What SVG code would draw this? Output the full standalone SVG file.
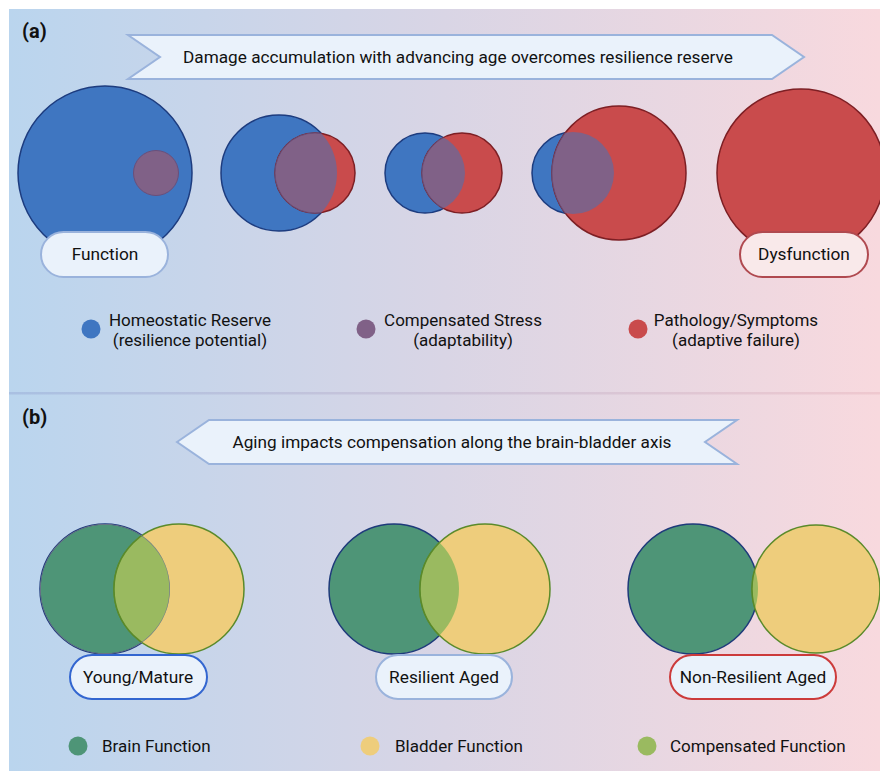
<svg xmlns="http://www.w3.org/2000/svg" width="880" height="771" viewBox="0 0 880 771">
  <defs>
    <linearGradient id="bg" x1="0" y1="0" x2="1" y2="0">
      <stop offset="0" stop-color="#bad5ee"/>
      <stop offset="0.5" stop-color="#d9d5e5"/>
      <stop offset="1" stop-color="#f8d9de"/>
    </linearGradient>
    <linearGradient id="sep" x1="0" y1="0" x2="1" y2="0">
      <stop offset="0" stop-color="#a9c0e2"/>
      <stop offset="1" stop-color="#efc8cf"/>
    </linearGradient>
    <!-- clip regions used to paint circle intersections -->
    <clipPath id="cA2"><circle cx="279" cy="173" r="58"/></clipPath>
    <clipPath id="cA3"><circle cx="425" cy="173" r="40"/></clipPath>
    <clipPath id="cA4"><circle cx="573" cy="173" r="41"/></clipPath>
    <clipPath id="cB1"><circle cx="105" cy="589" r="65"/></clipPath>
    <clipPath id="cB2"><circle cx="394" cy="589" r="65"/></clipPath>
    <clipPath id="cB3"><circle cx="693" cy="589" r="65"/></clipPath>
  </defs>
  <style>
    text { font-family: Roboto, "Liberation Sans", sans-serif; fill: #111; }
    .tag { font-weight: bold; font-size: 20px; }
    .banner { fill: #eaf2fb; stroke: #9ab3dc; stroke-width: 2; }
    .bt { font-size: 17.2px; text-anchor: middle; dominant-baseline: central; }
    .blue { fill: #3f76c1; stroke: #1d3c7f; stroke-width: 1.5; }
    .red { fill: #c94b4c; stroke: #7d1f24; stroke-width: 1.5; }
    .purple { fill: #806187; stroke: #6a4f7a; stroke-width: 1; }
    .green { fill: #4e9577; stroke: #1e3a7a; stroke-width: 1.5; }
    .yellow { fill: #eecd7c; stroke: #5a8a2a; stroke-width: 1.5; }
    .lime { fill: #9aba60; stroke: #5a8a2a; stroke-width: 1.5; }
    .pill { fill: #eaf2fb; stroke: #9ab3dc; stroke-width: 2; }
    .pt { font-size: 17.3px; text-anchor: middle; dominant-baseline: central; }
    .lg { font-size: 17px; text-anchor: middle; }
    .lg2 { font-size: 17px; dominant-baseline: central; }
  </style>

  <!-- backgrounds of both panels -->
  <rect x="9" y="9" width="871" height="384" fill="url(#bg)"/>
  <rect x="9" y="394" width="871" height="377" fill="url(#bg)"/>
  <rect x="9" y="392" width="871" height="2.5" fill="url(#sep)"/>

  <!-- ===== Panel (a) ===== -->
  <text class="tag" x="22" y="38">(a)</text>
  <g id="bannerA">
    <polygon class="banner" points="128,35 772,35 804,57 772,79 128,79 160,57"/>
    <text class="bt" x="458" y="57">Damage accumulation with advancing age overcomes resilience reserve</text>
  </g>

  <g id="stage1">
    <circle class="blue" cx="105" cy="173" r="87"/>
    <circle class="purple" cx="156" cy="173" r="22.5"/>
  </g>
  <g id="stage2">
    <circle class="blue" cx="279" cy="173" r="58"/>
    <circle class="red" cx="315" cy="173" r="40"/>
    <circle class="purple" cx="315" cy="173" r="40" clip-path="url(#cA2)"/>
  </g>
  <g id="stage3">
    <circle class="blue" cx="425" cy="173" r="40"/>
    <circle class="red" cx="462" cy="173" r="40"/>
    <circle class="purple" cx="462" cy="173" r="40" clip-path="url(#cA3)"/>
  </g>
  <g id="stage4">
    <circle class="blue" cx="573" cy="173" r="41"/>
    <circle class="red" cx="619" cy="173" r="67"/>
    <circle class="purple" cx="619" cy="173" r="67" clip-path="url(#cA4)"/>
  </g>
  <g id="stage5">
    <circle class="red" cx="801" cy="173" r="84"/>
  </g>

  <g id="function">
    <rect class="pill" x="41" y="232" width="127" height="45" rx="22.5"/>
    <text class="pt" x="105" y="254">Function</text>
  </g>
  <g id="dysfunction">
    <rect class="pill" x="740" y="232" width="128" height="45" rx="22.5" style="fill:#f9e9ea;stroke:#b04a50"/>
    <text class="pt" x="804" y="254">Dysfunction</text>
  </g>

  <g id="legendA">
    <circle cx="91" cy="329" r="9.5" fill="#3f76c1"/>
    <text class="lg" x="190" y="326">Homeostatic Reserve</text>
    <text class="lg" x="190" y="346">(resilience potential)</text>
    <circle cx="366" cy="329" r="9.5" fill="#806187"/>
    <text class="lg" x="463" y="326">Compensated Stress</text>
    <text class="lg" x="463" y="346">(adaptability)</text>
    <circle cx="638" cy="329" r="9.5" fill="#c94b4c"/>
    <text class="lg" x="736" y="326">Pathology/Symptoms</text>
    <text class="lg" x="736" y="346">(adaptive failure)</text>
  </g>

  <!-- ===== Panel (b) ===== -->
  <text class="tag" x="22" y="424">(b)</text>
  <g id="bannerB">
    <polygon class="banner" points="177,442 209,420 737,420 705,442 737,464 209,464"/>
    <text class="bt" x="452" y="442">Aging impacts compensation along the brain-bladder axis</text>
  </g>

  <g id="young">
    <circle class="green" cx="105" cy="589" r="65"/>
    <circle class="yellow" cx="179" cy="589" r="65"/>
    <circle class="lime" cx="179" cy="589" r="65" clip-path="url(#cB1)"/>
    <circle cx="105" cy="589" r="65" fill="none" stroke="#7a7f8a" stroke-width="1.5" clip-path="url(#cB1)"/>
  </g>
  <g id="resilient">
    <circle class="green" cx="394" cy="589" r="65"/>
    <circle class="yellow" cx="485" cy="589" r="65"/>
    <circle class="lime" cx="485" cy="589" r="65" clip-path="url(#cB2)"/>
  </g>
  <g id="nonresilient">
    <circle class="green" cx="693" cy="589" r="65"/>
    <circle class="yellow" cx="816" cy="589" r="64"/>
    <circle class="lime" cx="816" cy="589" r="64" clip-path="url(#cB3)"/>
  </g>

  <g id="lblYoung">
    <rect class="pill" x="70" y="655" width="137" height="44" rx="22" style="stroke:#3366d0"/>
    <text class="pt" x="138" y="677">Young/Mature</text>
  </g>
  <g id="lblResilient">
    <rect class="pill" x="376" y="655" width="136" height="44" rx="22"/>
    <text class="pt" x="444" y="677">Resilient Aged</text>
  </g>
  <g id="lblNonResilient">
    <rect class="pill" x="670" y="655" width="166" height="44" rx="22" style="stroke:#cc3b3b"/>
    <text class="pt" x="753" y="677">Non-Resilient Aged</text>
  </g>

  <g id="legendB">
    <circle cx="78" cy="746" r="9.5" fill="#4e9577"/>
    <text class="lg2" x="102" y="746">Brain Function</text>
    <circle cx="370" cy="746" r="9.5" fill="#eecd7c"/>
    <text class="lg2" x="395" y="746">Bladder Function</text>
    <circle cx="647" cy="746" r="9.5" fill="#9aba60"/>
    <text class="lg2" x="670" y="746">Compensated Function</text>
  </g>
</svg>
